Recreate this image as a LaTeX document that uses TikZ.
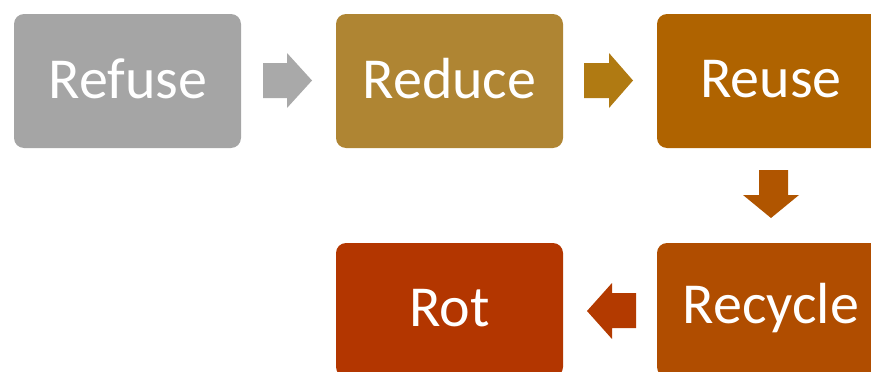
\documentclass[tikz,border=0pt]{standalone}
\usepackage{fontspec}
\setmainfont{Carlito}
\definecolor{cRefuse}{HTML}{A5A5A5}
\definecolor{cReduce}{HTML}{AF8533}
\definecolor{cReuse}{HTML}{AF6300}
\definecolor{cRecycle}{HTML}{B04D00}
\definecolor{cRot}{HTML}{B33600}
\definecolor{aOne}{HTML}{A9A9A9}
\definecolor{aTwo}{HTML}{B07A12}
\definecolor{aThree}{HTML}{B05500}
\definecolor{aFour}{HTML}{B33A00}
\tikzset{
  stepbox/.style={rectangle, rounded corners=10pt, minimum width=227pt, minimum height=134pt,
    inner sep=0pt, text=white, font=\fontsize{58}{68}\selectfont},
}
\begin{document}
\begin{tikzpicture}[x=1pt,y=-1pt]
\useasboundingbox (0,0) rectangle (871,372);
\clip (0,0) rectangle (871,372);
\node[stepbox, fill=cRefuse] (refuse) at (127.5,81) {};
\node[stepbox, fill=cReduce] (reduce) at (449.5,81) {};
\node[stepbox, fill=cReuse] (reuse) at (770.5,81) {};
\node[stepbox, fill=cRecycle] (recycle) at (770.5,310) {};
\node[stepbox, fill=cRot] (rot) at (449.5,310) {};
\node[text=white, font=\fontsize{58}{68}\selectfont, inner sep=0pt] (trefuse) at (128,79) {Refuse};
\node[text=white, font=\fontsize{58}{68}\selectfont, inner sep=0pt] (treduce) at (449.5,79) {Reduce};
\node[text=white, font=\fontsize{58}{68}\selectfont, inner sep=0pt] (treuse) at (771,79) {Reuse};
\node[text=white, font=\fontsize{58}{68}\selectfont, inner sep=0pt] (trecycle) at (771,308) {Recycle};
\node[text=white, font=\fontsize{58}{68}\selectfont, inner sep=0pt] (trot) at (449.5,308) {Rot};
% right arrows
\fill[aOne] (263,63) -- (287,63) -- (287,53) -- (312,80.5) -- (287,108) -- (287,98) -- (263,98) -- cycle;
\fill[aTwo] (584,63) -- (609,63) -- (609,53) -- (633,80.5) -- (609,108) -- (609,98) -- (584,98) -- cycle;
% down arrow
\fill[aThree] (759,170) -- (788,170) -- (788,195) -- (799,195) -- (771,218) -- (743,195) -- (759,195) -- cycle;
% left arrow
\fill[aFour] (636,293) -- (612,293) -- (612,283) -- (587,311) -- (612,339) -- (612,328) -- (636,328) -- cycle;
\end{tikzpicture}
\end{document}
